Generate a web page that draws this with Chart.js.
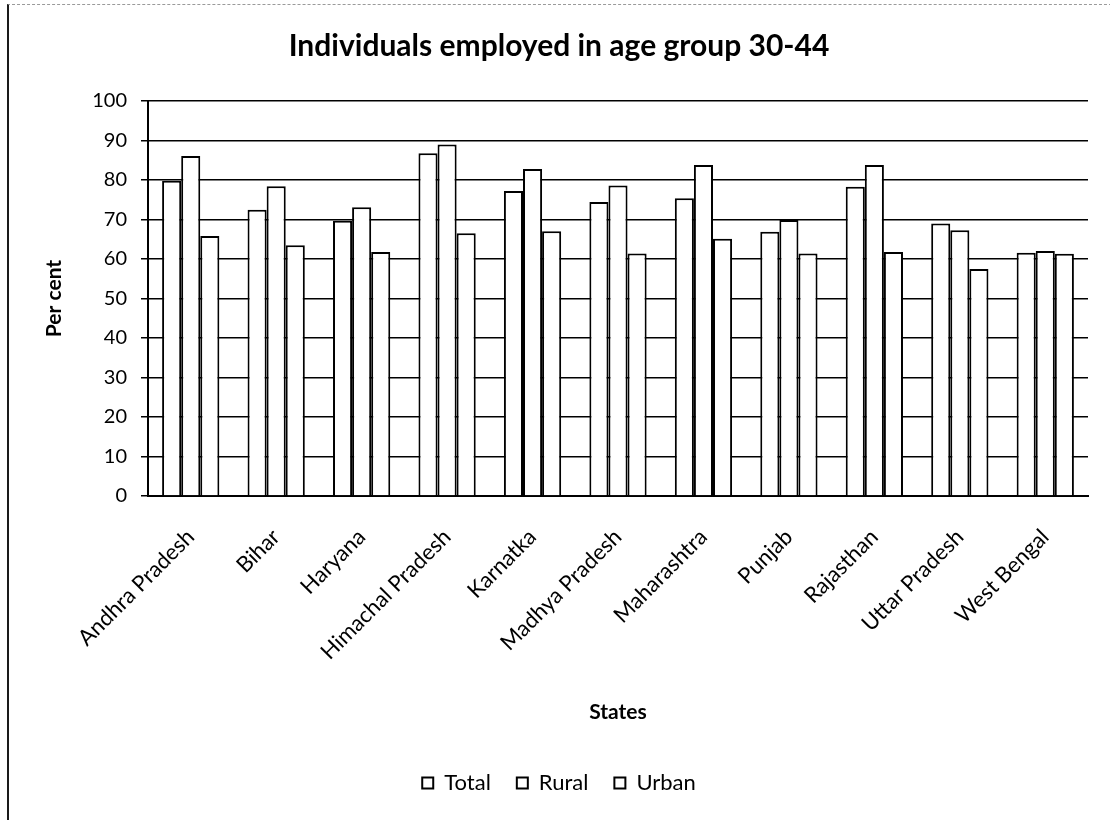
<!DOCTYPE html>
<html>
<head>
<meta charset="utf-8">
<title>Individuals employed in age group 30-44</title>
<script src="https://cdn.jsdelivr.net/npm/chart.js@4.4.1/dist/chart.umd.min.js"></script>
<style>
  html, body { margin: 0; padding: 0; background: #fff; }
  #wrap { position: relative; width: 1110px; height: 820px; overflow: hidden; }
  #frame { position: absolute; left: 7px; top: 4px; width: 1110px; height: 830px;
           border-left: 2px solid #1a1a1a; border-top: 1px dashed #9a9a9a; box-sizing: border-box; }
  canvas { position: absolute; left: 0; top: 0; }
</style>
</head>
<body>
<div id="wrap">
  <div id="frame"></div>
  <canvas id="chart" width="1110" height="820"></canvas>
</div>
<script>
// States on the category axis
const states = ['Andhra Pradesh', 'Bihar', 'Haryana', 'Himachal Pradesh', 'Karnatka',
                'Madhya Pradesh', 'Maharashtra', 'Punjab', 'Rajasthan', 'Uttar Pradesh', 'West Bengal'];

// Per cent of individuals employed, age group 30-44
const totalValues = [79.8, 72.5, 69.7, 86.8, 77.2, 74.4, 75.4, 66.9, 78.3, 69.0, 61.6];
const ruralValues = [86.1, 78.4, 73.1, 89.0, 82.8, 78.6, 83.8, 69.9, 83.8, 67.3, 62.0];
const urbanValues = [65.8, 63.5, 61.8, 66.5, 67.0, 61.4, 65.1, 61.4, 61.8, 57.5, 61.3];

// Value axis ticks
const yTicks = [0, 10, 20, 30, 40, 50, 60, 70, 80, 90, 100];

const FONT = 'Lato, "Open Sans", sans-serif';
const INK = '#000';

const barStyle = {
  backgroundColor: '#ffffff',
  borderColor: INK,
  borderWidth: 2,
  borderSkipped: 'bottom',
  barPercentage: 1.0,
  categoryPercentage: 0.67
};

new Chart(document.getElementById('chart'), {
  type: 'bar',
  data: {
    labels: states,
    datasets: [
      Object.assign({ label: 'Total', data: totalValues }, barStyle),
      Object.assign({ label: 'Rural', data: ruralValues }, barStyle),
      Object.assign({ label: 'Urban', data: urbanValues }, barStyle)
    ]
  },
  options: {
    responsive: false,
    animation: false,
    devicePixelRatio: 1,
    layout: { padding: { left: 30, right: 22, top: 0, bottom: 16 } },
    plugins: {
      title: {
        display: true,
        text: 'Individuals employed in age group 30-44',
        color: INK,
        font: { family: FONT, size: 30, weight: 'bold' },
        padding: { top: 28, bottom: 37 }
      },
      legend: {
        display: true,
        position: 'bottom',
        labels: {
          color: INK,
          font: { family: FONT, size: 22 },
          boxWidth: 11,
          boxHeight: 11,
          padding: 26,
          generateLabels: (chart) => chart.data.datasets.map((ds, i) => ({
            text: ds.label,
            fillStyle: '#ffffff',
            strokeStyle: INK,
            lineWidth: 2,
            datasetIndex: i,
            hidden: false
          }))
        }
      },
      tooltip: { enabled: false }
    },
    scales: {
      x: {
        grid: { display: false },
        border: { display: true, color: INK, width: 2 },
        ticks: {
          color: INK,
          font: { family: FONT, size: 22 },
          maxRotation: 45,
          minRotation: 45,
          autoSkip: false,
          padding: 20
        },
        title: {
          display: true,
          text: 'States',
          color: INK,
          font: { family: FONT, size: 21, weight: 'bold' },
          padding: { top: 0, bottom: 21 }
        },
        afterFit: (scale) => { scale.height = 250; }
      },
      y: {
        min: 0,
        max: 100,
        afterBuildTicks: (scale) => { scale.ticks = yTicks.map(v => ({ value: v })); },
        grid: {
          color: INK,
          lineWidth: 1.5,
          drawTicks: true,
          tickLength: 7
        },
        border: { display: true, color: INK, width: 2 },
        ticks: {
          color: INK,
          font: { family: FONT, size: 20 },
          padding: 14
        },
        title: {
          display: true,
          text: 'Per cent',
          color: INK,
          font: { family: FONT, size: 21, weight: 'bold' },
          padding: { top: 12, bottom: 0 }
        },
        afterFit: (scale) => { scale.width = 118; }
      }
    }
  }
});
</script>
</body>
</html>
